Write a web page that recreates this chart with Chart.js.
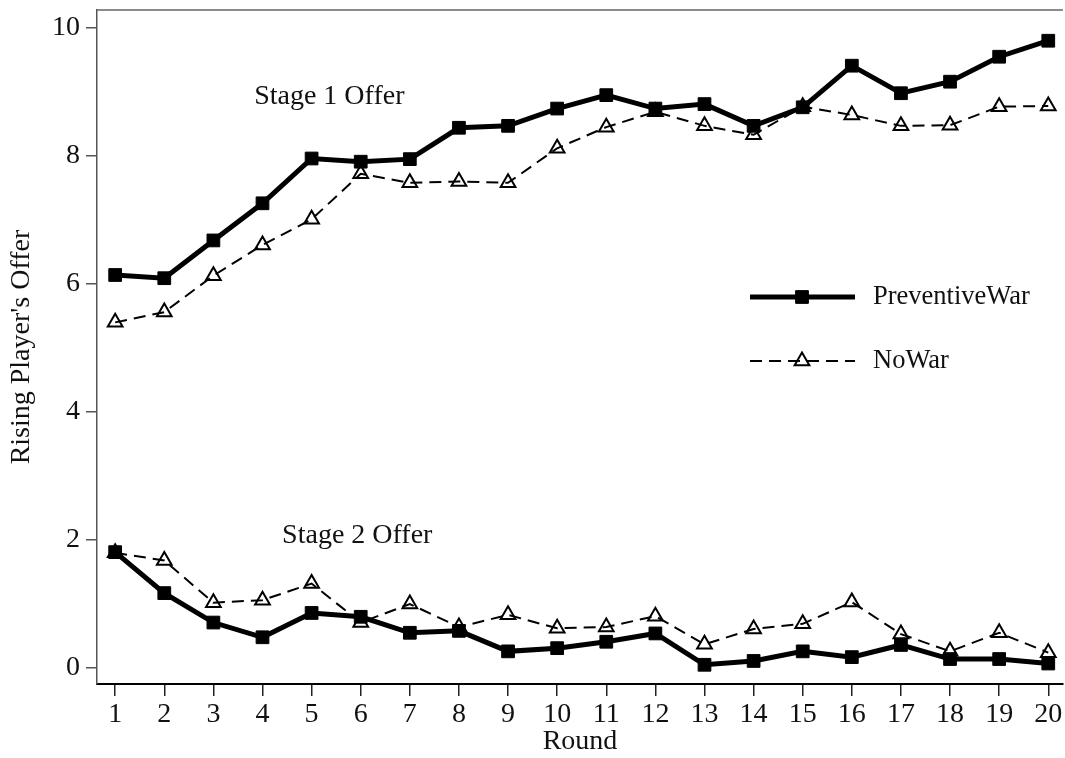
<!DOCTYPE html>
<html>
<head>
<meta charset="utf-8">
<script src="https://cdn.jsdelivr.net/npm/chart.js@4"></script>
<style>
  body { margin: 0; background: #fff; }
  canvas { display: block; }
</style>
</head>
<body>
<canvas id="offers" width="1065" height="758"></canvas>
<script>
// rising player's offer by round, two treatments, stage 1 and stage 2
const rounds = [1, 2, 3, 4, 5, 6, 7, 8, 9, 10, 11, 12, 13, 14, 15, 16, 17, 18, 19, 20];
const prevWarStage1 = [6.14, 6.09, 6.68, 7.26, 7.96, 7.91, 7.95, 8.44, 8.47, 8.74, 8.95, 8.74, 8.81, 8.47, 8.76, 9.41, 8.98, 9.16, 9.55, 9.80];
const noWarStage1 = [5.40, 5.56, 6.13, 6.61, 7.01, 7.72, 7.58, 7.60, 7.58, 8.12, 8.45, 8.69, 8.47, 8.33, 8.77, 8.64, 8.47, 8.48, 8.77, 8.78];
const prevWarStage2 = [1.81, 1.17, 0.71, 0.48, 0.86, 0.80, 0.55, 0.58, 0.26, 0.31, 0.41, 0.54, 0.05, 0.11, 0.26, 0.17, 0.36, 0.14, 0.14, 0.07];
const noWarStage2 = [1.80, 1.68, 1.02, 1.06, 1.32, 0.71, 1.00, 0.64, 0.83, 0.62, 0.64, 0.81, 0.37, 0.61, 0.69, 1.03, 0.53, 0.26, 0.55, 0.24];
const yTicks = [0, 2, 4, 6, 8, 10];
const seriesNames = ['PreventiveWar', 'NoWar'];
const stageLabels = ['Stage 1 Offer', 'Stage 2 Offer'];

const TEXT = '#111';
const FONT = "'Liberation Serif', 'DejaVu Serif', serif";

// where the stage captions sit, in data units
const stageAt = [{ x: 5.36, y: 8.93 }, { x: 5.93, y: 2.07 }];

function pts(vals) {
  return vals.map((v, i) => ({ x: rounds[i], y: v }));
}

const prevStyle = {
  borderColor: '#000', borderWidth: 5, pointStyle: 'rect', pointRadius: 9,
  pointBackgroundColor: '#000', pointBorderColor: '#000', pointBorderWidth: 1,
};
const noWarStyle = {
  borderColor: '#000', borderWidth: 2, borderDash: [12, 7], pointStyle: 'triangle', pointRadius: 8.5,
  pointBackgroundColor: 'rgba(0,0,0,0)', pointBorderColor: '#000', pointBorderWidth: 2,
};

// captions + the in-plot legend + the top frame line
const decor = {
  id: 'decor',
  afterDatasetsDraw(chart) {
    const { ctx, chartArea, scales: { x, y } } = chart;
    ctx.save();
    ctx.strokeStyle = '#666';
    ctx.lineWidth = 1.5;
    ctx.beginPath();
    ctx.moveTo(chartArea.left, chartArea.top);
    ctx.lineTo(chartArea.right, chartArea.top);
    ctx.stroke();

    ctx.fillStyle = TEXT;
    ctx.font = '28px ' + FONT;
    ctx.textAlign = 'center';
    ctx.textBaseline = 'middle';
    stageLabels.forEach((t, i) => {
      ctx.fillText(t, x.getPixelForValue(stageAt[i].x), y.getPixelForValue(stageAt[i].y));
    });

    // legend
    ctx.font = '26.5px ' + FONT;
    const rows = [{ st: prevStyle, y: 297 }, { st: noWarStyle, y: 361 }];
    rows.forEach((r, i) => {
      ctx.strokeStyle = r.st.borderColor;
      ctx.lineWidth = r.st.borderWidth;
      ctx.setLineDash(r.st.borderDash || []);
      ctx.beginPath();
      ctx.moveTo(750, r.y);
      ctx.lineTo(855, r.y);
      ctx.stroke();
      ctx.setLineDash([]);
      ctx.fillStyle = r.st.pointBackgroundColor;
      ctx.strokeStyle = r.st.pointBorderColor;
      ctx.lineWidth = r.st.pointBorderWidth;
      Chart.helpers.drawPoint(ctx, {
        pointStyle: r.st.pointStyle, radius: r.st.pointRadius, rotation: 0,
        borderWidth: r.st.pointBorderWidth,
      }, 802, r.y);
      ctx.fillStyle = TEXT;
      ctx.textAlign = 'left';
      ctx.fillText(seriesNames[i], 873, r.y);
    });
    ctx.restore();
  },
};

Chart.defaults.font.family = FONT;
Chart.defaults.font.size = 28;
Chart.defaults.color = TEXT;

new Chart(document.getElementById('offers'), {
  type: 'line',
  data: {
    datasets: [
      { label: seriesNames[0], data: pts(prevWarStage1), ...prevStyle },
      { label: seriesNames[0], data: pts(prevWarStage2), ...prevStyle },
      { label: seriesNames[1], data: pts(noWarStage1), ...noWarStyle },
      { label: seriesNames[1], data: pts(noWarStage2), ...noWarStyle },
    ],
  },
  options: {
    responsive: false,
    animation: false,
    layout: { autoPadding: false, padding: { top: 10, right: 2, left: 0, bottom: 0 } },
    plugins: { legend: { display: false }, tooltip: { enabled: false } },
    scales: {
      x: {
        type: 'linear', min: 0.63, max: 20.3,
        afterBuildTicks: (s) => { s.ticks = rounds.map((v) => ({ value: v })); },
        afterFit: (s) => { s.height = 74; s.paddingLeft = 0; s.paddingRight = 0; },
        ticks: { padding: 2, maxRotation: 0, autoSkip: false, color: TEXT },
        grid: { drawOnChartArea: false, tickLength: 12, color: '#222', lineWidth: 1.5 },
        border: { color: '#000', width: 2 },
        title: { display: true, text: 'Round', color: TEXT, padding: { top: 0, bottom: 0 } },
      },
      y: {
        min: -0.25, max: 10.28,
        afterBuildTicks: (s) => { s.ticks = yTicks.map((v) => ({ value: v })); },
        afterFit: (s) => { s.width = 97; s.paddingTop = 0; s.paddingBottom = 0; },
        ticks: { padding: 6, color: TEXT },
        grid: { drawOnChartArea: false, tickLength: 11, color: '#555', lineWidth: 1.5 },
        border: { color: '#555', width: 1.5 },
        title: { display: true, text: "Rising Player's Offer", color: TEXT, padding: { top: 5, bottom: 0 } },
      },
    },
  },
  plugins: [decor],
});
</script>
</body>
</html>
